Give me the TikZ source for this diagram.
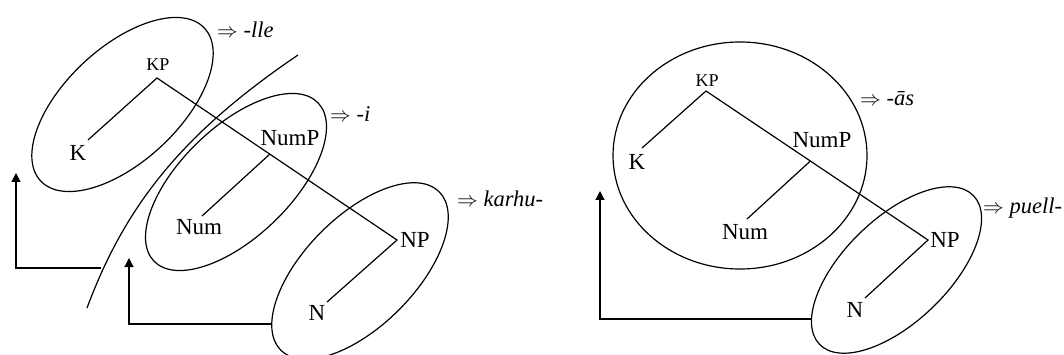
\documentclass[tikz,border=0pt]{standalone}
\usepackage{fontspec}
\setmainfont{Liberation Serif}
\usetikzlibrary{arrows.meta,calc}
\begin{document}
\begin{tikzpicture}[x=1pt,y=-1pt,
  lab/.style={inner sep=0pt,font=\fontsize{23}{27}\selectfont},
  smalllab/.style={inner sep=0pt,font=\fontsize{18}{22}\selectfont},
  suffix/.style={inner sep=0pt,anchor=mid west,font=\fontsize{22.5}{26}\selectfont},
  edge/.style={line width=1.2pt},
  ring/.style={line width=1.2pt},
  movearrow/.style={line width=1.2pt,-{Triangle[width=9pt,length=9pt]}}]
\useasboundingbox (0,0) rectangle (1064,355);

% ---------- left panel ----------
\draw[ring,rotate around={43:(122.5,104.5)}] (122.5,104.5) ellipse [x radius=112pt,y radius=57pt];
\draw[ring,rotate around={44:(236,182)}] (236,182) ellipse [x radius=114pt,y radius=55pt];
\draw[ring,rotate around={45:(360,271)}] (360,271) ellipse [x radius=112pt,y radius=55pt];
\draw[edge] (298,55) .. controls (183,133) and (125.5,204.6) .. (87,308);

\node[smalllab] (KPa) at (158,65) {KP};
\node[lab] (Ka) at (78,153) {K};
\node[lab] (NumPa) at (290,138) {NumP};
\node[lab] (Numa) at (199,227) {Num};
\node[lab] (NPa) at (415,240) {NP};
\node[lab] (Na) at (317,313) {N};

\coordinate (kpa) at (157,78);
\coordinate (ka) at (88,140);
\coordinate (npa) at (397,240);
\coordinate (numpa) at ($(kpa)!0.47!(npa)$);
\coordinate (numa) at (202,216);
\coordinate (na) at (327,302);

\draw[edge] (ka) -- (kpa) -- (npa) -- (na);
\draw[edge] (numpa) -- (numa);

\node[suffix] (sa1) at (217,35) {$\Rightarrow$ \textit{-lle}};
\node[suffix] (sa2) at (330,119) {$\Rightarrow$ \textit{-i}};
\node[suffix] (sa3) at (457,204) {$\Rightarrow$ \textit{karhu-}};

\coordinate (curvept) at (101,268);
\coordinate (arra) at (16,268);
\coordinate (arratip) at (16,173);
\draw[movearrow] (curvept) -- (arra) -- (arratip);

\coordinate (ell3pt) at (271,324);
\coordinate (arrb) at (129,324);
\coordinate (arrbtip) at (129,258);
\draw[movearrow] (ell3pt) -- (arrb) -- (arrbtip);

% ---------- right panel ----------
\draw[ring] (740,155.5) ellipse [x radius=127pt,y radius=113.5pt];
\draw[ring,rotate around={44:(896.5,270)}] (896.5,270) ellipse [x radius=107pt,y radius=52pt];

\node[smalllab] (KPb) at (707,81) {KP};
\node[lab] (Kb) at (637,162) {K};
\node[lab] (NumPb) at (822,140) {NumP};
\node[lab] (Numb) at (745,232) {Num};
\node[lab] (NPb) at (945,240) {NP};
\node[lab] (Nb) at (855,310) {N};

\coordinate (kpb) at (706,91);
\coordinate (kb) at (642,148);
\coordinate (npb) at (928,240);
\coordinate (numpb) at ($(kpb)!0.47!(npb)$);
\coordinate (numb) at (747,219);
\coordinate (nb) at (865,298);

\draw[edge] (kb) -- (kpb) -- (npb) -- (nb);
\draw[edge] (numpb) -- (numb);

\node[suffix] (sb1) at (860,103) {$\Rightarrow$ \textit{-ās}};
\node[suffix] (sb2) at (983,211) {$\Rightarrow$ \textit{puell-}};

\coordinate (ell5pt) at (812,319);
\coordinate (arrc) at (600,319);
\coordinate (arrctip) at (600,191);
\draw[movearrow] (ell5pt) -- (arrc) -- (arrctip);
\end{tikzpicture}
\end{document}
